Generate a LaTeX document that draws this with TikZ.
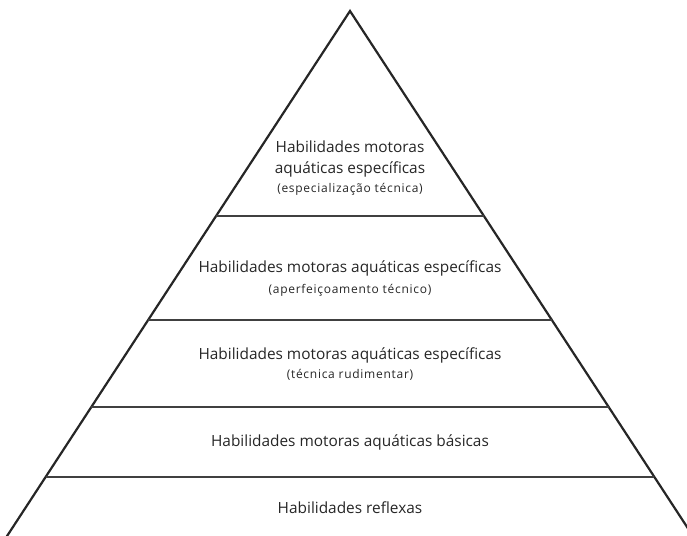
\documentclass[tikz,border=0pt]{standalone}
\usepackage{fontspec}
\setmainfont{Open Sans}
\newfontfamily\subfont[LetterSpace=6]{Open Sans}
\usetikzlibrary{calc}
\begin{document}
\begin{tikzpicture}[x=1pt,y=-1pt,
  side/.style={line width=2.2pt, draw=black!85, line join=miter},
  tier/.style={line width=1.2pt, draw=black!75},
  mainlabel/.style={text=black!85, inner sep=0, anchor=center,
    font=\fontsize{15.4}{18}\selectfont},
  sublabel/.style={text=black!85, inner sep=0, anchor=center,
    font=\subfont\fontsize{12}{14}\selectfont}]
\useasboundingbox (0,0) rectangle (687,535);
\begin{scope}
\clip (0,0) rectangle (687,535);
% outline of the pyramid
\coordinate (apex) at (350,11);
\coordinate (bl) at (-6,556);
\coordinate (br) at (706,556);
\draw[side] (bl) -- (apex) -- (br);
% tier boundaries
\foreach \name/\t in {a/0.3761, b/0.567, c/0.7266, d/0.855} {
  \coordinate (\name L) at ($(apex)!\t!(bl)$);
  \coordinate (\name R) at ($(apex)!\t!(br)$);
}
\draw[tier] (aL) -- (aR);
\draw[tier] (bL) -- (bR);
\draw[tier] (cL) -- (cR);
\draw[tier] (dL) -- (dR);
\end{scope}
% labels
\node[mainlabel] (t1a) at (350,147) {Habilidades motoras};
\node[mainlabel] (t1b) at (350,169) {aquáticas específicas};
\node[sublabel]  (t1c) at (350,189) {(especialização técnica)};
\node[mainlabel] (t2a) at (350,268) {Habilidades motoras aquáticas específicas};
\node[sublabel]  (t2b) at (350,290) {(aperfeiçoamento técnico)};
\node[mainlabel] (t3a) at (350,355) {Habilidades motoras aquáticas específicas};
\node[sublabel]  (t3b) at (350,375) {(técnica rudimentar)};
\node[mainlabel] (t4)  at (350,442) {Habilidades motoras aquáticas básicas};
\node[mainlabel] (t5)  at (350,508) {Habilidades reflexas};
\end{tikzpicture}
\end{document}
